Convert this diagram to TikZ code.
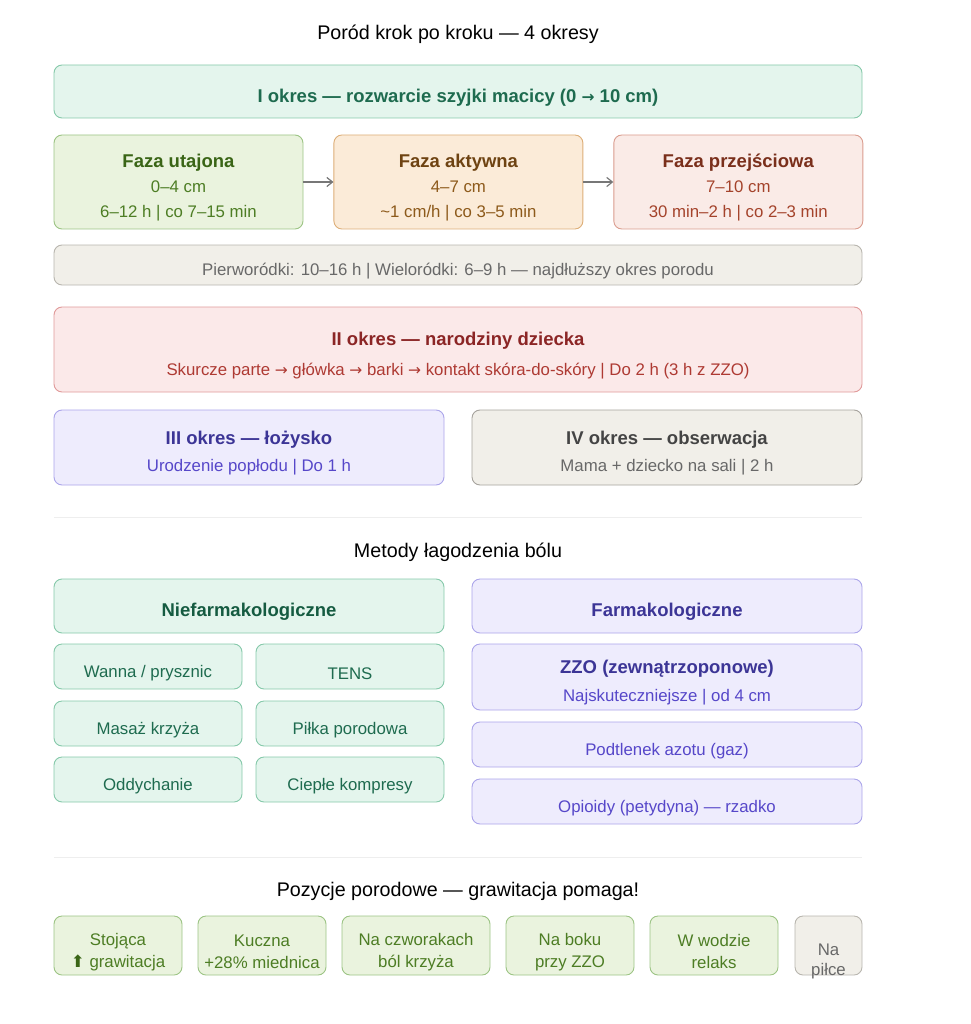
\documentclass[tikz,border=0pt]{standalone}
\usepackage{fontspec}
\setmainfont{Liberation Sans}
\newfontfamily\symfont{DejaVu Sans}
\usetikzlibrary{arrows.meta,positioning}

\definecolor{mintF}{HTML}{E4F5ED}
\definecolor{mintB}{HTML}{86C9AA}
\definecolor{mintH}{HTML}{155B41}
\definecolor{mintT}{HTML}{1E6B4F}
\definecolor{greenF}{HTML}{EAF3DE}
\definecolor{greenB}{HTML}{9CC484}
\definecolor{greenH}{HTML}{3A6516}
\definecolor{greenT}{HTML}{4D7D24}
\definecolor{orangeF}{HTML}{FBEBD8}
\definecolor{orangeB}{HTML}{DDAE78}
\definecolor{orangeH}{HTML}{6E4312}
\definecolor{orangeT}{HTML}{8D5A1B}
\definecolor{roseF}{HTML}{FAEBE7}
\definecolor{roseB}{HTML}{DA9C8E}
\definecolor{roseH}{HTML}{7A2F1B}
\definecolor{roseT}{HTML}{A4432B}
\definecolor{redF}{HTML}{FBE9E9}
\definecolor{redB}{HTML}{E09A9A}
\definecolor{redH}{HTML}{8B2525}
\definecolor{redT}{HTML}{AE3A33}
\definecolor{purF}{HTML}{EEECFD}
\definecolor{purB}{HTML}{ABA5EA}
\definecolor{purH}{HTML}{3C3596}
\definecolor{purT}{HTML}{5647C9}
\definecolor{grayF}{HTML}{F1EFE9}
\definecolor{grayB}{HTML}{B8B5AE}
\definecolor{grayH}{HTML}{444444}
\definecolor{grayT}{HTML}{686868}
\definecolor{sepC}{HTML}{EEEEEE}
\definecolor{arrowC}{HTML}{777777}

% podniesienie pierwszego wiersza, zeby tekst siedzial nizej w ramce
\newcommand{\sh}{\rule{0pt}{25pt}}
\newcommand{\hd}[1]{{\sh\fontsize{18.5}{20}\selectfont\bfseries #1}}
\newcommand{\ar}{{\symfont\fontsize{15.5}{15}\selectfont →}}

\begin{document}
\begin{tikzpicture}[
      x=1pt,y=-1pt,
      box/.style={rectangle,rounded corners=8pt,draw,line width=0.9pt,align=center,inner sep=0pt,font=\fontsize{16.8}{25}\selectfont,
        execute at begin node={\rule{0pt}{1.5em}}},
      mintbox/.style={box,draw=mintB,fill=mintF,text=mintT},
      greenbox/.style={box,draw=greenB,fill=greenF,text=greenT},
      orangebox/.style={box,draw=orangeB,fill=orangeF,text=orangeT},
      rosebox/.style={box,draw=roseB,fill=roseF,text=roseT},
      redbox/.style={box,draw=redB,fill=redF,text=redT},
      purbox/.style={box,draw=purB,fill=purF,text=purT},
      greybox/.style={box,draw=grayB,fill=grayF,text=grayT},
      phase/.style={minimum width=249pt,minimum height=94pt},
      small/.style={minimum width=188pt,minimum height=45pt},
      posbox/.style={minimum width=128pt,minimum height=59pt,font=\fontsize{16.8}{22}\selectfont},
      heading/.style={font=\fontsize{19.7}{22}\selectfont,text=black},
      sepline/.style={draw=sepC,line width=1pt},
      arrow/.style={-{Straight Barb[length=2mm,width=3.2mm]},line width=1.2pt,draw=arrowC}
    ]
    \useasboundingbox (0,0) rectangle (970,1024);

    % okresy porodu
    \node[heading] (t1) at (458,34) {Poród krok po kroku — 4 okresy};
    \node[mintbox,minimum width=808pt,minimum height=53pt] (okres1) at (458,91.5) {\hd{\color{mintT}I okres — rozwarcie szyjki macicy (0 \ar{} 10 cm)}};
    \node[greenbox,phase] (utajona) at (178.5,182) {\hd{\color{greenH}Faza utajona}\\0–4 cm\\6–12 h | co 7–15 min};
    \node[orangebox,phase,right=30pt of utajona] (aktywna) {\hd{\color{orangeH}Faza aktywna}\\4–7 cm\\\textasciitilde1 cm/h | co 3–5 min};
    \node[rosebox,phase,right=30pt of aktywna] (przejsc) {\hd{\color{roseH}Faza przejściowa}\\7–10 cm\\30 min–2 h | co 2–3 min};
    \draw[arrow] (utajona) -- (aktywna);
    \draw[arrow] (aktywna) -- (przejsc);
    \node[greybox,minimum width=808pt,minimum height=40pt] (czas) at (458,265) {Pierworódki: 10–16 h | Wieloródki: 6–9 h — najdłuższy okres porodu};
    \node[redbox,minimum width=808pt,minimum height=85pt] (okres2) at (458,349.5) {\hd{\color{redH}II okres — narodziny dziecka}\\[5pt]Skurcze parte \ar{} główka \ar{} barki \ar{} kontakt skóra-do-skóry | Do 2 h (3 h z ZZO)};
    \node[purbox,minimum width=390pt,minimum height=75pt] (okres3) at (249,447.5) {\hd{\color{purH}III okres — łożysko}\\[2pt]Urodzenie popłodu | Do 1 h};
    \node[greybox,minimum width=390pt,minimum height=75pt,draw=grayB!90!black] (okres4) at (667,447.5) {\hd{\color{grayH}IV okres — obserwacja}\\[2pt]Mama + dziecko na sali | 2 h};
    \coordinate (s1a) at (54,517);
    \coordinate (s1b) at (862,517);
    \draw[sepline] (s1a) -- (s1b);

    % metody lagodzenia bolu
    \node[heading] (t2) at (458,552) {Metody łagodzenia bólu};
    \node[mintbox,minimum width=390pt,minimum height=54pt] (niefarm) at (249,606) {\hd{\color{mintH}Niefarmakologiczne}};
    \node[purbox,minimum width=390pt,minimum height=54pt] (farm) at (667,606) {\hd{\color{purH}Farmakologiczne}};
    \node[mintbox,small] (wanna) at (148,666.5) {Wanna / prysznic};
    \node[mintbox,small] (tens) at (350,666.5) {TENS};
    \node[mintbox,small] (masaz) at (148,723.5) {Masaż krzyża};
    \node[mintbox,small] (pilka) at (350,723.5) {Piłka porodowa};
    \node[mintbox,small] (oddech) at (148,779.5) {Oddychanie};
    \node[mintbox,small] (kompres) at (350,779.5) {Ciepłe kompresy};
    \node[purbox,minimum width=390pt,minimum height=66pt] (zzo) at (667,677) {\hd{\color{purH}ZZO (zewnątrzoponowe)}\\[3pt]Najskuteczniejsze | od 4 cm};
    \node[purbox,minimum width=390pt,minimum height=45pt] (gaz) at (667,744.5) {Podtlenek azotu (gaz)};
    \node[purbox,minimum width=390pt,minimum height=45pt] (opioidy) at (667,801.5) {Opioidy (petydyna) — rzadko};
    \coordinate (s2a) at (54,857);
    \coordinate (s2b) at (862,857);
    \draw[sepline] (s2a) -- (s2b);

    % pozycje porodowe
    \node[heading] (t3) at (458,891) {Pozycje porodowe — grawitacja pomaga!};
    \node[greenbox,posbox] (stojaca) at (118,945.5) {\sh Stojąca\\{\symfont\color{greenH}⬆} grawitacja};
    \node[greenbox,posbox] (kuczna) at (262,945.5) {\sh Kuczna\\+28\% miednica};
    \node[greenbox,posbox,minimum width=148pt] (czwor) at (416,945.5) {\sh Na czworakach\\ból krzyża};
    \node[greenbox,posbox] (bok) at (570,945.5) {\sh Na boku\\przy ZZO};
    \node[greenbox,posbox] (woda) at (714,945.5) {\sh W wodzie\\relaks};
    \node[greybox,posbox,minimum width=67pt] (pilce) at (828.5,945.5) {};
    \node[text=grayT,align=center,font=\fontsize{16.8}{20}\selectfont] (pilceT) at (828.5,961) {Na\\piłce};
  \end{tikzpicture}
\end{document}
